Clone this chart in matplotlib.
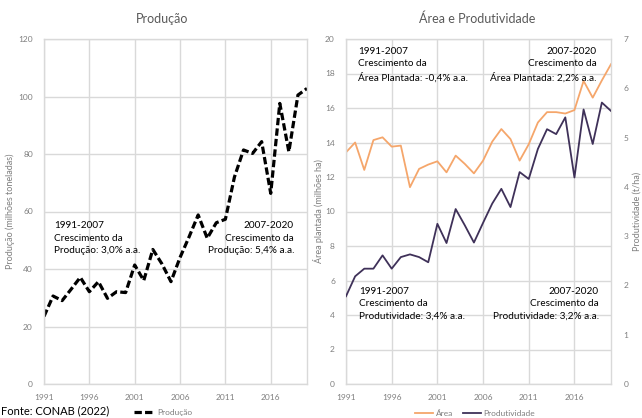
import matplotlib
matplotlib.use("Agg")
import matplotlib.pyplot as plt

plt.rcParams['font.family'] = ['Lato', 'DejaVu Sans']

# data
years = list(range(1991, 2021))
producao = [23.5, 30.6, 29.0, 33.0, 37.1, 32.1, 35.6, 29.8, 32.1, 31.8,
            41.4, 36.0, 46.8, 41.8, 35.6, 44.0, 51.2, 58.8, 50.7, 56.1,
            57.3, 72.0, 81.4, 80.2, 84.3, 66.3, 97.6, 80.8, 100.5, 102.8]
area = [13.43, 14.0, 12.41, 14.14, 14.3, 13.76, 13.82, 11.41, 12.47, 12.72,
        12.91, 12.27, 13.24, 12.76, 12.21, 12.95, 14.05, 14.78, 14.2, 12.95,
        13.9, 15.16, 15.76, 15.76, 15.68, 15.88, 17.57, 16.6, 17.6, 18.54]
produtividade = [1.78, 2.185, 2.34, 2.34, 2.61, 2.34, 2.575, 2.63, 2.575, 2.47,
                 3.25, 2.86, 3.55, 3.22, 2.87, 3.27, 3.66, 3.96, 3.59, 4.30,
                 4.16, 4.77, 5.17, 5.07, 5.41, 4.19, 5.57, 4.87, 5.71, 5.54]
xticks = [1991, 1996, 2001, 2006, 2011, 2016]

GRID = '#d9d9d9'
TICK = '#7f7f7f'
TITLE = '#595959'
ORANGE = '#f5a66b'
PURPLE = '#3f3159'

W, H = 642, 418
fig = plt.figure(figsize=(W / 100, H / 100), dpi=100)


def px_axes(x0, y0, x1, y1):
    return fig.add_axes([x0 / W, 1 - y1 / H, (x1 - x0) / W, (y1 - y0) / H])


def style(ax):
    for s in ax.spines.values():
        s.set_color(GRID)
        s.set_linewidth(1)
    ax.grid(True, color=GRID, linewidth=1)
    ax.set_axisbelow(True)
    ax.tick_params(length=0, labelsize=6, colors=TICK)
    ax.set_xticks(xticks)
    ax.set_xlim(1991, 2020)


# --- Produção ---
ax1 = px_axes(44, 39, 307, 384)
style(ax1)
ax1.plot(years, producao, color='black', lw=2.3, ls=(0, (2.3, 1.0)),
         label='Produção')
ax1.set_ylim(0, 120)
ax1.set_yticks(range(0, 121, 20))
ax1.tick_params(axis='y', pad=8)
ax1.tick_params(axis='x', pad=7)
ax1.set_ylabel('Produção (milhões toneladas)', fontsize=6.5, color=TICK)
ax1.yaxis.set_label_coords((15 - 44) / 263, 0.5)
fig.text(162 / W, 1 - 19 / H, 'Produção', ha='center', va='center',
         fontsize=9, color=TITLE)

ann = dict(fontsize=7.2, color='black', linespacing=1.5, va='top')
fig.text(54 / W, 1 - 221 / H, '1991-2007\nCrescimento da\nProdução: 3,0% a.a.',
         ha='left', **ann)
fig.text(294 / W, 1 - 221 / H, '2007-2020\nCrescimento da\nProdução: 5,4% a.a.',
         ha='right', multialignment='right', **ann)

leg1 = ax1.legend(loc='center', bbox_to_anchor=(163 / W, 1 - 412 / H),
                  bbox_transform=fig.transFigure, frameon=False, fontsize=6,
                  handlelength=2.6, handletextpad=0.2, borderpad=0.1)
for t in leg1.get_texts():
    t.set_color(TICK)

fig.text(1 / W, 1 - 405 / H, 'Fonte: CONAB (2022)', ha='left', va='top',
         fontsize=8, color='black')

# --- Área e Produtividade ---
ax2 = px_axes(346, 39, 611, 384)
style(ax2)
l_area, = ax2.plot(years, area, color=ORANGE, lw=1.3, label='Área')
ax2.set_ylim(0, 20)
ax2.set_yticks(range(0, 21, 2))
ax2.tick_params(axis='y', pad=8)
ax2.tick_params(axis='x', pad=7)
ax2.set_ylabel('Área plantada (milhões ha)', fontsize=6.5, color=TICK)
ax2.yaxis.set_label_coords((324 - 346) / 265, 0.5)

ax3 = ax2.twinx()
for s in ax3.spines.values():
    s.set_visible(False)
l_prod, = ax3.plot(years, produtividade, color=PURPLE, lw=1.3,
                   label='Produtividade')
ax3.set_ylim(0, 7)
ax3.set_yticks(range(0, 8))
ax3.tick_params(length=0, labelsize=6, colors=TICK, pad=9)
ax3.set_ylabel('Produtividade (t/ha)', fontsize=6.5, color=TICK)
ax3.yaxis.set_label_coords((633 - 346) / 265, 0.5)

fig.text(477 / W, 1 - 19 / H, 'Área e Produtividade', ha='center',
         va='center', fontsize=9, color=TITLE)

fig.text(358 / W, 1 - 47 / H, '1991-2007\nCrescimento da\nÁrea Plantada: -0,4% a.a.',
         ha='left', **ann)
fig.text(597 / W, 1 - 47 / H, '2007-2020\nCrescimento da\nÁrea Plantada: 2,2% a.a.',
         ha='right', multialignment='right', **ann)
fig.text(359 / W, 1 - 287 / H, '1991-2007\nCrescimento da\nProdutividade: 3,4% a.a.',
         ha='left', **ann)
fig.text(599 / W, 1 - 287 / H, '2007-2020\nCrescimento da\nProdutividade: 3,2% a.a.',
         ha='right', multialignment='right', **ann)

leg2 = ax3.legend(handles=[l_area, l_prod], loc='center', ncol=2,
                  bbox_to_anchor=(475 / W, 1 - 413 / H),
                  bbox_transform=fig.transFigure, frameon=False, fontsize=6,
                  handlelength=2.2, handletextpad=0.3, columnspacing=1.2,
                  borderpad=0.1)
for t in leg2.get_texts():
    t.set_color(TICK)

fig.savefig('out.png', dpi=100)
